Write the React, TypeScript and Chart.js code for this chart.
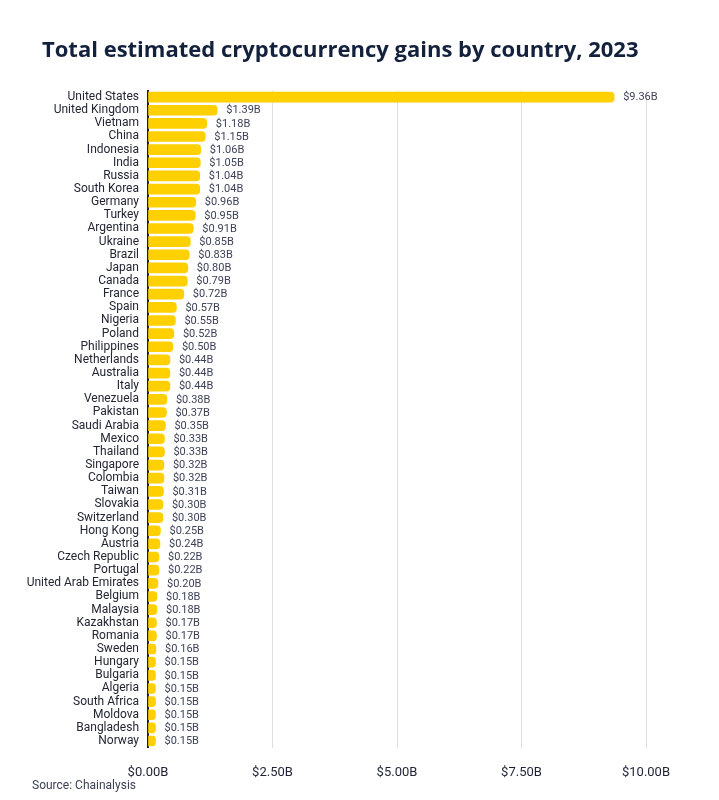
import React, { useEffect, useRef } from "react";
import { Chart, registerables } from "chart.js";

Chart.register(...registerables);

const TITLE = "Total estimated cryptocurrency gains by country, 2023";
const SOURCE = "Source: Chainalysis";

const countries = [
  "United States", "United Kingdom", "Vietnam", "China", "Indonesia", "India", "Russia", "South Korea",
  "Germany", "Turkey", "Argentina", "Ukraine", "Brazil", "Japan", "Canada", "France", "Spain", "Nigeria",
  "Poland", "Philippines", "Netherlands", "Australia", "Italy", "Venezuela", "Pakistan", "Saudi Arabia",
  "Mexico", "Thailand", "Singapore", "Colombia", "Taiwan", "Slovakia", "Switzerland", "Hong Kong",
  "Austria", "Czech Republic", "Portugal", "United Arab Emirates", "Belgium", "Malaysia", "Kazakhstan",
  "Romania", "Sweden", "Hungary", "Bulgaria", "Algeria", "South Africa", "Moldova", "Bangladesh", "Norway",
];

const gainsBillions = [
  9.36, 1.39, 1.18, 1.15, 1.06, 1.05, 1.04, 1.04,
  0.96, 0.95, 0.91, 0.85, 0.83, 0.80, 0.79, 0.72, 0.57, 0.55,
  0.52, 0.50, 0.44, 0.44, 0.44, 0.38, 0.37, 0.35,
  0.33, 0.33, 0.32, 0.32, 0.31, 0.30, 0.30, 0.25,
  0.24, 0.22, 0.22, 0.20, 0.18, 0.18, 0.17,
  0.17, 0.16, 0.15, 0.15, 0.15, 0.15, 0.15, 0.15, 0.15,
];

const xTicks = [0, 2.5, 5, 7.5, 10];

const fmt = (v: number) => "$" + v.toFixed(2) + "B";

const FONT = "Roboto, 'Noto Sans', sans-serif";

export default function App() {
  const ref = useRef<HTMLCanvasElement | null>(null);

  useEffect(() => {
    document.body.style.margin = "0";
    const canvas = ref.current;
    if (!canvas) return;

    const textPlugin = {
      id: "texts",
      afterDraw(chart: any) {
        const ctx = chart.ctx;
        ctx.save();
        ctx.fillStyle = "#14213d";
        ctx.font = "bold 22px 'Open Sans', sans-serif";
        ctx.textAlign = "left";
        ctx.textBaseline = "middle";
        ctx.fillText(TITLE, 42, 51);

        ctx.fillStyle = "#3a3f52";
        ctx.font = "12px " + FONT;
        ctx.fillText(SOURCE, 32, 786);

        // data labels
        const meta = chart.getDatasetMeta(0);
        ctx.font = "11px " + FONT;
        ctx.fillStyle = "#3d4259";
        meta.data.forEach((bar: any, i: number) => {
          const v = chart.data.datasets[0].data[i] as number;
          ctx.fillText(fmt(v), bar.x + 9, bar.y + 0.5);
        });
        ctx.restore();
      },
    };

    const chart = new Chart(canvas, {
      type: "bar",
      data: {
        labels: countries,
        datasets: [
          {
            data: gainsBillions,
            backgroundColor: "#FFD000",
            borderWidth: 0,
            borderRadius: 4,
            barThickness: 10,
          },
        ],
      },
      options: {
        indexAxis: "y",
        animation: false,
        responsive: false,
        maintainAspectRatio: false,
        layout: { padding: { top: 90.5, right: 73, bottom: 12.4, left: 0 } },
        plugins: {
          legend: { display: false },
          tooltip: { enabled: false },
          title: { display: false },
        },
        scales: {
          x: {
            type: "linear",
            min: 0,
            max: 10,
            afterBuildTicks: (scale: any) => {
              scale.ticks = xTicks.map((v) => ({ value: v }));
            },
            afterFit: (scale: any) => {
              scale.height = 40;
            },
            grid: { color: "#dedede", lineWidth: 1, drawTicks: false },
            border: { display: false },
            ticks: {
              padding: 17,
              color: "#1e2235",
              font: { family: FONT, size: 13 },
              callback: (v: any) => fmt(Number(v)),
            },
          },
          y: {
            afterFit: (scale: any) => {
              scale.width = 148;
            },
            grid: { display: false, drawTicks: false },
            border: { display: true, color: "#14213d", width: 2 },
            ticks: {
              padding: 9,
              autoSkip: false,
              color: "#222633",
              font: { family: FONT, size: 12 },
            },
          },
        },
      },
      plugins: [textPlugin],
    });

    return () => chart.destroy();
  }, []);

  return (
    <div style={{ width: 719, height: 800, background: "#fff" }}>
      <canvas ref={ref} width={719} height={800} style={{ display: "block" }} />
    </div>
  );
}
